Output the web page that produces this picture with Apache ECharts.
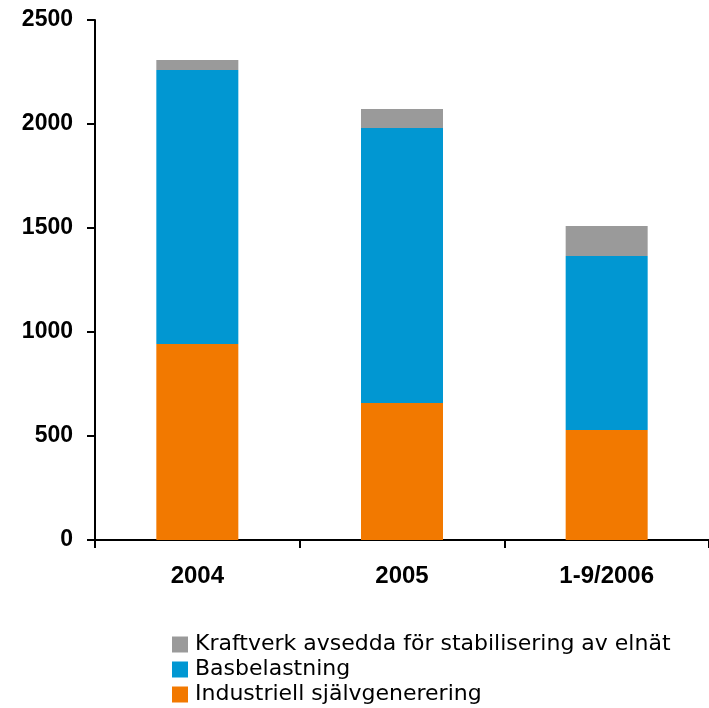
<!DOCTYPE html>
<html>
<head>
<meta charset="utf-8">
<script src="https://cdn.jsdelivr.net/npm/echarts@6/dist/echarts.min.js"></script>
<style>
html,body{margin:0;padding:0;background:#fff;}
#chart{width:709px;height:708px;}
</style>
</head>
<body>
<div id="chart"></div>
<script>
const categories = ['2004', '2005', '1-9/2006'];
const industriell = [942, 659, 529];
const basbelastning = [1318, 1322, 836];
const kraftverk = [48, 91, 145];
const seriesNames = ['Industriell självgenerering', 'Basbelastning', 'Kraftverk avsedda för stabilisering av elnät'];
const yTicks = [0, 500, 1000, 1500, 2000, 2500];

const chart = echarts.init(document.getElementById('chart'), null, {renderer: 'canvas'});
const font = 'Liberation Sans, Arial, sans-serif';
chart.setOption({
  animation: false,
  backgroundColor: '#ffffff',
  grid: {left: 95, right: 0, top: 20, bottom: 168, containLabel: false},
  legend: {
    orient: 'vertical',
    left: 172,
    top: 633,
    height: 80,
    padding: 0,
    itemWidth: 16,
    itemHeight: 16,
    itemGap: 2,
    icon: 'rect',
    data: [seriesNames[2], seriesNames[1], seriesNames[0]],
    textStyle: {fontFamily: 'DejaVu Sans, sans-serif', fontSize: 22, lineHeight: 23, color: '#000', padding: [0, 0, 0, 2]}
  },
  xAxis: {
    type: 'category',
    data: categories,
    axisLine: {lineStyle: {color: '#000', width: 2}},
    axisTick: {show: true, length: 8, lineStyle: {color: '#000', width: 2}},
    axisLabel: {fontFamily: font, fontSize: 24, fontWeight: 'bold', color: '#000', margin: 24}
  },
  yAxis: {
    type: 'value',
    min: yTicks[0],
    max: yTicks[yTicks.length - 1],
    interval: 500,
    splitLine: {show: false},
    axisLine: {show: true, lineStyle: {color: '#000', width: 2}},
    axisTick: {show: true, length: 8, lineStyle: {color: '#000', width: 2}},
    axisLabel: {fontFamily: font, fontSize: 23, fontWeight: 'bold', color: '#000', margin: 22, formatter: v => String(v)}
  },
  series: [
    {name: seriesNames[0], type: 'bar', stack: 's', data: industriell, barWidth: 82, itemStyle: {color: '#f27900'}},
    {name: seriesNames[1], type: 'bar', stack: 's', data: basbelastning, barWidth: 82, itemStyle: {color: '#0197d2'}},
    {name: seriesNames[2], type: 'bar', stack: 's', data: kraftverk, barWidth: 82, itemStyle: {color: '#9a9a9a'}}
  ]
});
</script>
</body>
</html>
